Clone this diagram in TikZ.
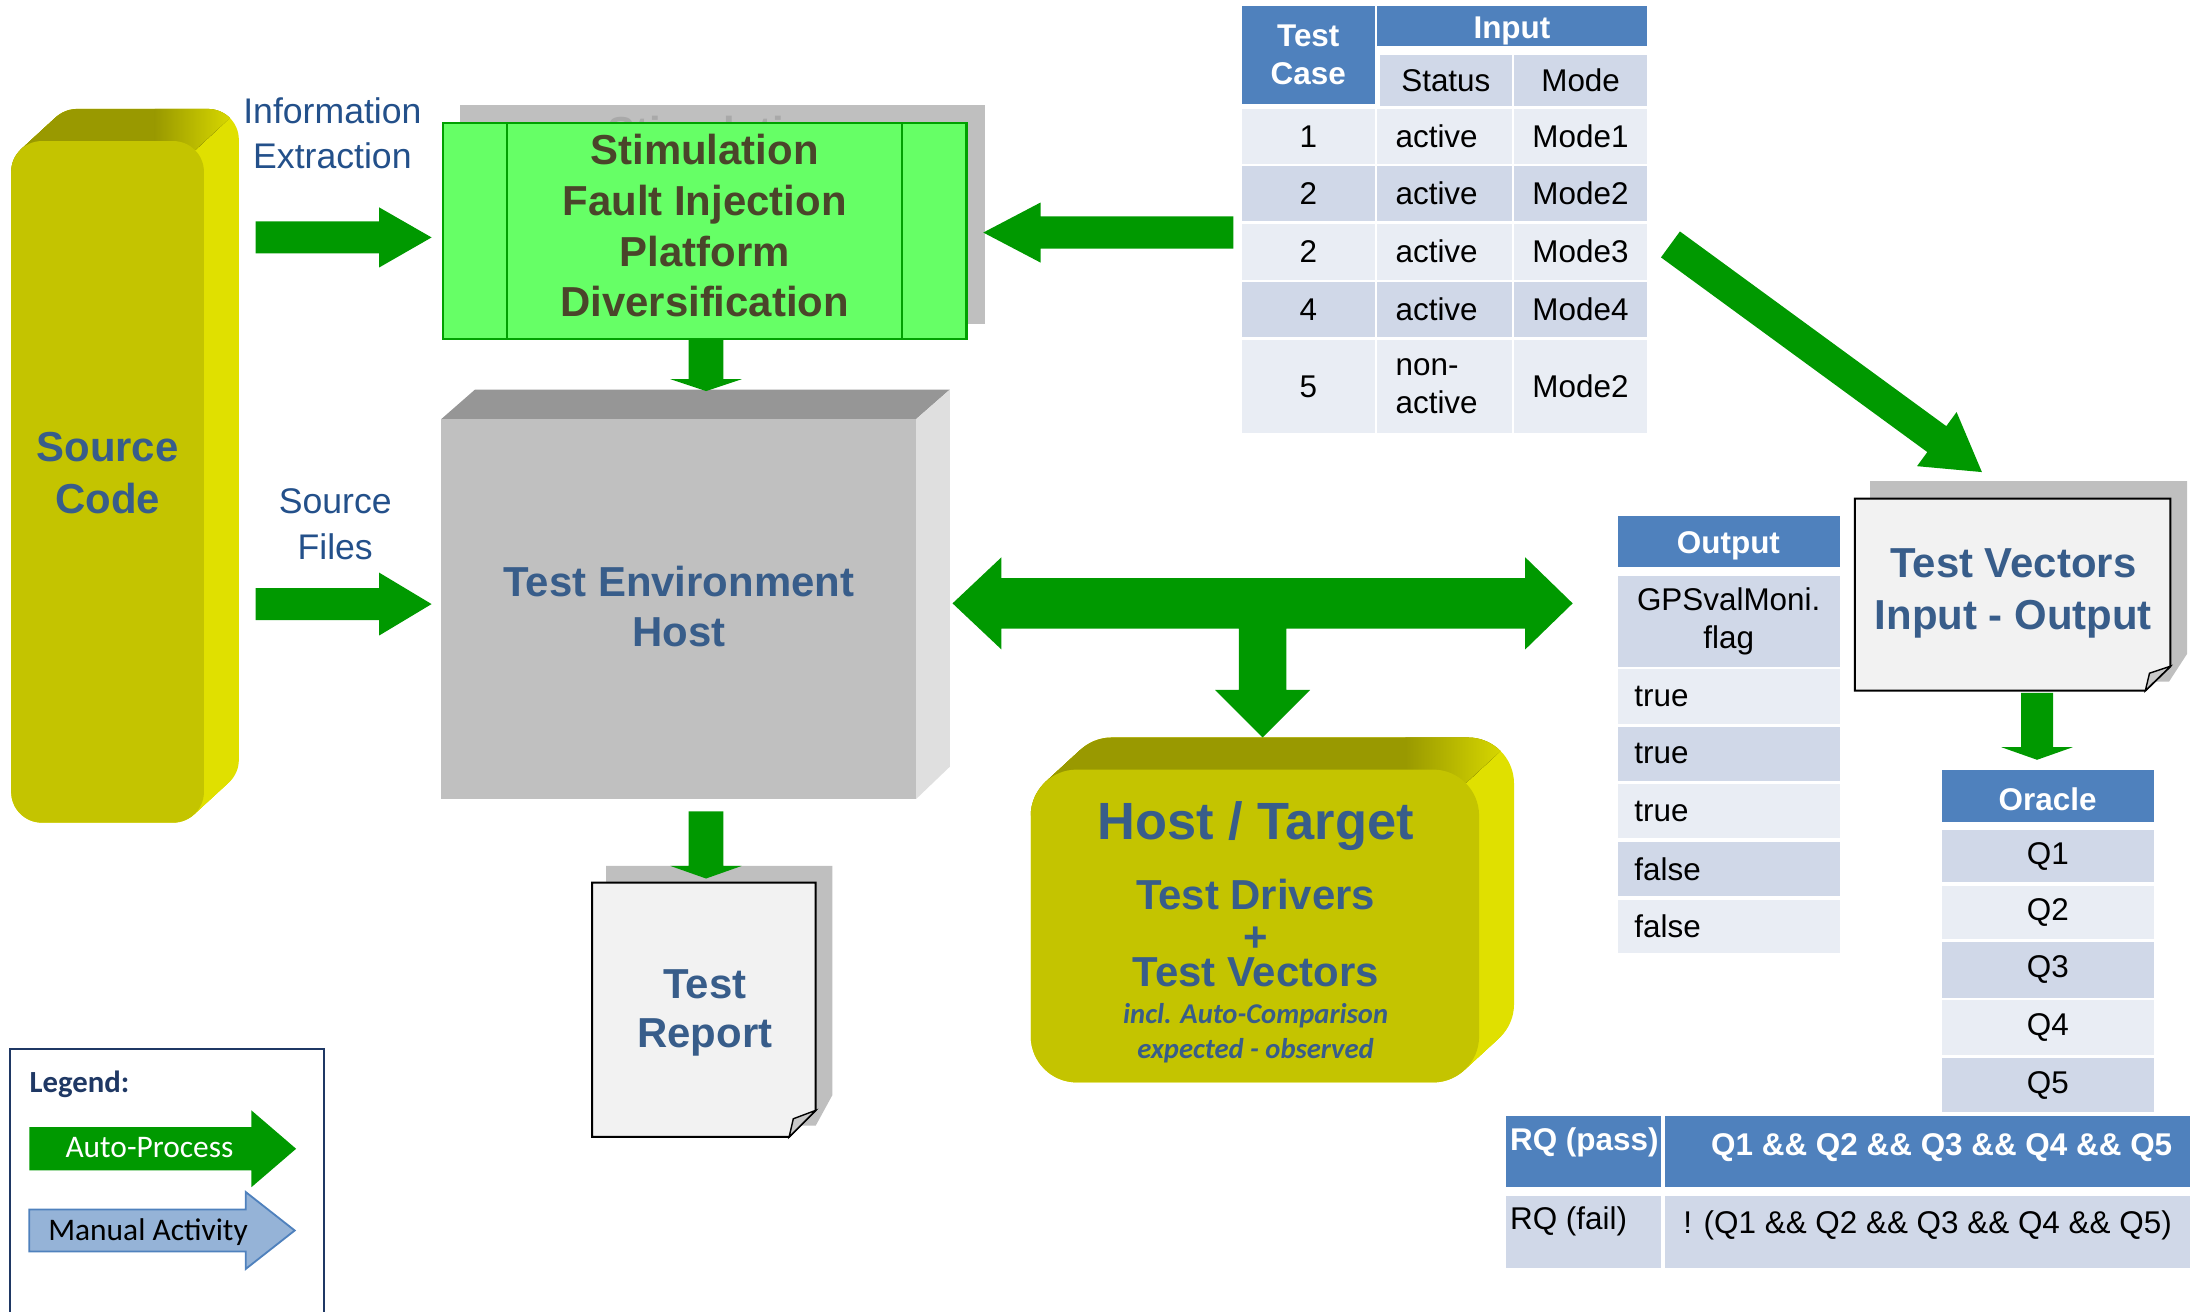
\documentclass[tikz,border=0pt]{standalone}
\usepackage{fontspec}
\setmainfont{Liberation Sans}
\newfontfamily\calibfont{Carlito}
\usetikzlibrary{calc}

% palette
\definecolor{flowgreen}{HTML}{009900}
\definecolor{procgreen}{HTML}{66FF66}
\definecolor{procedge}{HTML}{00A000}
\definecolor{proctext}{HTML}{4A452A}
\definecolor{labelblue}{HTML}{23508A}
\definecolor{boxblue}{HTML}{385D8A}
\definecolor{yelfront}{HTML}{C4C400}
\definecolor{yeltop}{HTML}{999900}
\definecolor{yelside}{HTML}{E0E000}
\definecolor{greyfront}{HTML}{C0C0C0}
\definecolor{greytop}{HTML}{969696}
\definecolor{greyside}{HTML}{DFDFDF}
\definecolor{shadowgrey}{HTML}{BFBFBF}
\definecolor{ghost}{HTML}{A9A9A9}
\definecolor{paper}{HTML}{F2F2F2}
\definecolor{flapgrey}{HTML}{C8C8C8}
\definecolor{hdrblue}{HTML}{4F81BD}
\definecolor{rowdark}{HTML}{D0D8E8}
\definecolor{rowlight}{HTML}{E9EDF4}
\definecolor{manualfill}{HTML}{95B3D7}
\definecolor{legendedge}{HTML}{1F3864}

\newcommand\tabfont{\fontsize{22.5}{27}\selectfont}

% block arrow: [style]{from}{to}{half shaft}{half head}{head length}
\newcommand\fatarrow[6][fill=flowgreen]{%
  \path[#1] let \p1=($(#3)!#6!(#2)$) in
    ($(#2)!#4!90:(#3)$) -- ($(\p1)!#4!90:(#3)$) -- ($(\p1)!#5!90:(#3)$) -- (#3)
    -- ($(\p1)!#5!-90:(#3)$) -- ($(\p1)!#4!-90:(#3)$) -- ($(#2)!#4!-90:(#3)$) -- cycle;
}

% extruded rounded block: x0,y0,x1,y1,radius,dx,dy,palette
\newcommand\solidblock[8]{%
  \foreach \k in {0,...,24}{
    \fill[#8side, rounded corners=#5pt]
      ({#1+\k/24*(#6)},{#2+\k/24*(#7)}) rectangle ({#3+\k/24*(#6)},{#4+\k/24*(#7)});
  }
  \begin{scope}
    \clip ({#1-40},{#2+#5}) -- ({#1-40},{#2+(#7)-40}) -- ({#3+(#6)+40},{#2+(#7)-40})
      -- ({#3-0.29*#5+1.8*(#6)},{#2+0.29*#5+1.8*(#7)}) -- ({#3-0.29*#5},{#2+0.29*#5})
      -- ({#3-#5},{#2+#5}) -- cycle;
    \foreach \k in {0,...,24}{
      \fill[#8top, rounded corners=#5pt]
        ({#1+\k/24*(#6)},{#2+\k/24*(#7)}) rectangle ({#3+\k/24*(#6)},{#4+\k/24*(#7)});
    }
    % soft blend where the top face turns into the side face
    \clip[rounded corners=#5pt] (#1,#4) -- (#1,#2) -- ({#1+(#6)},{#2+(#7)}) -- ({#3+(#6)},{#2+(#7)})
      -- ({#3+(#6)},{#4+(#7)}) -- (#3,#4) -- cycle;
    \shade[left color=#8top, right color=#8side]
      ({#3-1.6*#5},{#2+(#7)-2}) rectangle ({#3+(#6)+2},{#2+#5});
  \end{scope}
  \fill[#8front, rounded corners=#5pt] (#1,#2) rectangle (#3,#4);
}

\tikzset{
  every node/.style={inner sep=0pt},
  lbl/.style={align=center, text=boxblue},
  bigbold/.style={font=\fontsize{30}{#1}\selectfont\bfseries},
  sidelabel/.style={align=center, text=labelblue, font=\fontsize{25.5}{32.4}\selectfont},
  cellc/.style={rectangle, anchor=north west, font=\tabfont, align=center},
  cellhdr/.style={cellc, fill=hdrblue, text=white, font=\tabfont\bfseries},
  cellleft/.style={cellc, align=left, inner xsep=13pt},
}

% one row of the test case table: name, top, height, colour, three entries
\newcommand\trow[7]{%
  \node[cellc, fill=#4, minimum width=95pt, minimum height=#3pt] (#1a) at (889,#2) {#5};
  \node[cellleft, fill=#4, minimum width=96pt, minimum height=#3pt, text width=70pt] (#1b) at (986,#2) {#6};
  \node[cellleft, fill=#4, minimum width=95pt, minimum height=#3pt, text width=69pt] (#1c) at (1084,#2) {#7};
}
% output column cell
\newcommand\ocell[5]{%
  \node[cellleft, fill=#4, minimum width=159pt, minimum height=#3pt, text width=135pt, inner xsep=12pt] (#1) at (1158,#2) {#5};
}
% oracle column cell
\newcommand\qcell[5]{%
  \node[cellc, fill=#4, minimum width=152pt, minimum height=#3pt] (#1) at (1390,#2) {#5};
}

\begin{document}
\begin{tikzpicture}[x=1pt,y=-1pt]
\useasboundingbox (0,0) rectangle (1568,939);
\clip (0,0) rectangle (1568,939);

% ---------- source code column ----------
\solidblock{8}{101}{146}{589}{22}{25}{-23}{yel}
\node[lbl, bigbold=37] (srcLbl) at (77,338.5) {Source\\Code};

% ---------- stimulation / fault injection process ----------
\fill[shadowgrey] (329,75) rectangle (705,232);
\begin{scope}
  \clip (329,75) rectangle (705,88);
  \node[anchor=base, text=ghost, font=\fontsize{30}{36}\selectfont\bfseries] (stimGhost) at (516.5,105) {Stimulation};
\end{scope}
\node[draw=procedge, fill=procgreen, line width=1.5pt, minimum width=375pt, minimum height=155pt] (stim) at (504.5,165.5) {};
\draw[procedge, line width=1.5pt] (363,88) -- (363,243) (646,88) -- (646,243);
\node[align=center, text=proctext, bigbold=36.3] (stimLbl) at (504.5,161.7)
  {Stimulation\\Fault Injection\\Platform\\Diversification};

% ---------- test environment host ----------
\fill[greytop] (316,300) -- (340,279) -- (680,279) -- (656,300) -- cycle;
\fill[greyside] (656,300) -- (680,279) -- (680,549) -- (656,572) -- cycle;
\fill[greyfront] (316,300) rectangle (656,572);
\node[lbl, bigbold=35.8] (envLbl) at (486,434.6) {Test Environment\\Host};

% ---------- host / target ----------
\solidblock{738}{551}{1059}{775}{33}{25}{-23}{yel}
\node[anchor=base, text=boxblue, font=\fontsize{37.5}{40}\selectfont\bfseries] (htTitle) at (899,601) {Host / Target};
\node[anchor=base, text=boxblue, bigbold=34] (htDrv) at (899,651.5) {Test Drivers};
\node[anchor=base, text=boxblue, bigbold=34] (htPlus) at (899,681.5) {+};
\node[anchor=base, text=boxblue, bigbold=34] (htVec) at (899,706) {Test Vectors};
\node[anchor=base, text=boxblue, font=\calibfont\fontsize{20.5}{24}\selectfont\bfseries\itshape] (htInc) at (899,733) {incl. Auto-Comparison};
\node[anchor=base, text=boxblue, font=\calibfont\fontsize{20.5}{24}\selectfont\bfseries\itshape] (htExp) at (899,757.5) {expected - observed};

% ---------- documents ----------
\fill[shadowgrey] (1339,344.5) -- (1566,344.5) -- (1566,468) -- (1553,488) -- (1339,488) -- cycle;
\draw[line width=1.4pt, fill=paper] (1328,357) -- (1554,357) -- (1554,477) -- (1536,494.5) -- (1328,494.5) -- cycle;
\draw[line width=1pt, fill=flapgrey] (1554,477) -- (1539,482) -- (1536,494.5) -- cycle;
\node[lbl, bigbold=37] (tvLbl) at (1441.5,425) {Test Vectors\\Input - Output};

\fill[shadowgrey] (434,620) -- (596,620) -- (596,784) -- (584,806) -- (434,806) -- cycle;
\draw[line width=1.4pt, fill=paper] (424,632) -- (584,632) -- (584,795) -- (565,814) -- (424,814) -- cycle;
\draw[line width=1pt, fill=flapgrey] (584,795) -- (568,801) -- (565,814) -- cycle;
\node[lbl, bigbold=35.5] (trLbl) at (504.6,725.2) {Test\\Report};

% ---------- side labels ----------
\node[sidelabel] (ieLbl) at (238,95.5) {Information\\Extraction};
\node[sidelabel] (sfLbl) at (240,375.3) {Source\\Files};

% ---------- test case table ----------
\node[cellhdr, minimum width=95pt, minimum height=70pt] (tcHead) at (889,4) {Test\\Case};
\node[cellhdr, minimum width=193pt, minimum height=29pt] (inHead) at (986,4) {};
\node[anchor=base, font=\tabfont\bfseries, text=white] (inText) at (1082.5,27.5) {Input};
\node[cellc, fill=rowdark, minimum width=94pt, minimum height=37pt] (stHead) at (988,39) {Status};
\node[cellc, fill=rowdark, minimum width=95pt, minimum height=37pt] (mdHead) at (1084,39) {Mode};
\trow{ra}{78}{39}{rowlight}{1}{active}{Mode1}
\trow{rb}{119}{39}{rowdark}{2}{active}{Mode2}
\trow{rc}{160}{40}{rowlight}{2}{active}{Mode3}
\trow{rd}{202}{39}{rowdark}{4}{active}{Mode4}
\trow{re}{243}{67}{rowlight}{5}{non-\\active}{Mode2}

% ---------- output column ----------
\node[cellhdr, minimum width=159pt, minimum height=37pt] (outHead) at (1158,369) {};
\node[anchor=base, font=\tabfont\bfseries, text=white] (outText) at (1237.5,396) {Output};
\node[cellc, fill=rowdark, minimum width=159pt, minimum height=65pt] (gps) at (1158,412) {GPSvalMoni.\\flag};
\ocell{oa}{479}{39}{rowlight}{true}
\ocell{ob}{520}{39}{rowdark}{true}
\ocell{oc}{561}{39}{rowlight}{true}
\ocell{od}{603}{38.5}{rowdark}{false}
\ocell{oe}{644}{38}{rowlight}{false}

% ---------- oracle column ----------
\node[cellhdr, minimum width=152pt, minimum height=37.5pt] (orHead) at (1390,551) {};
\node[anchor=base, font=\tabfont\bfseries, text=white] (orText) at (1466,580) {Oracle};
\qcell{qa}{594}{37.5}{rowdark}{Q1}
\qcell{qb}{634}{38}{rowlight}{Q2}
\qcell{qc}{674.5}{39.5}{rowdark}{Q3}
\qcell{qd}{716}{39}{rowlight}{Q4}
\qcell{qe}{757.5}{38.5}{rowdark}{Q5}

% ---------- requirement rows ----------
\node[cellc, fill=hdrblue, minimum width=111pt, minimum height=51pt] (rqPass) at (1078,799) {};
\node[cellc, fill=hdrblue, minimum width=400pt, minimum height=51pt] (rqPassV) at (1192,799) {};
\node[cellc, fill=rowdark, minimum width=111pt, minimum height=52pt] (rqFail) at (1078,856) {};
\node[cellc, fill=rowdark, minimum width=400pt, minimum height=52pt] (rqFailV) at (1192,856) {};
\node[anchor=base west, font=\tabfont\bfseries, text=white] (rqPassT) at (1081,824) {RQ (pass)};
\node[anchor=base west, font=\tabfont\bfseries, text=white] (rqPassE) at (1225,827) {Q1 \&\& Q2 \&\& Q3 \&\& Q4 \&\& Q5};
\node[anchor=base west, font=\tabfont] (rqFailT) at (1081,880) {RQ (fail)};
\node[anchor=base west, font=\tabfont] (rqFailE) at (1205,883) {! (Q1 \&\& Q2 \&\& Q3 \&\& Q4 \&\& Q5)};

% ---------- flow arrows ----------
\coordinate (ieA) at (183,170);     \coordinate (ieB) at (309,170);
\fatarrow{ieA}{ieB}{11.5pt}{21.5pt}{37.5pt}
\coordinate (sfA) at (183,432.5);   \coordinate (sfB) at (309,432.5);
\fatarrow{sfA}{sfB}{11.5pt}{22.5pt}{37.5pt}
\coordinate (seA) at (505.5,243);   \coordinate (seB) at (505.5,280);
\fatarrow{seA}{seB}{12.5pt}{25.5pt}{8.5pt}
\coordinate (tsA) at (883,166.5);   \coordinate (tsB) at (704,166.5);
\fatarrow{tsA}{tsB}{11.5pt}{21.5pt}{41pt}
\coordinate (dgA) at (1196,175);    \coordinate (dgB) at (1419,338);
\fatarrow{dgA}{dgB}{11.5pt}{24pt}{40pt}
\coordinate (erA) at (505.5,581);   \coordinate (erB) at (505.5,629);
\fatarrow{erA}{erB}{12.5pt}{25.5pt}{9pt}
\coordinate (voA) at (1458.5,496);  \coordinate (voB) at (1458.5,544);
\fatarrow{voA}{voB}{11.5pt}{25.5pt}{9pt}

% exchange arrow between host environment and output, with branch to host/target
\coordinate (xL) at (682,432);
\coordinate (xR) at (1126,432);
\coordinate (xD) at (904,528);
\fill[flowgreen] (xL) -- ++(35,-33) -- ++(0,15) -- ++(375,0) -- ++(0,-15) -- (xR)
  -- ++(-34,33) -- ++(0,-15) -- ++(-171,0) -- ++(0,44) -- ++(17,0) -- (xD)
  -- ++(-34,-34) -- ++(17,0) -- ++(0,-44) -- ++(-170,0) -- ++(0,15) -- cycle;

% ---------- legend ----------
\draw[legendedge, line width=1.3pt] (7,751) rectangle (232,960);
\node[anchor=base west, text=legendedge, font=\calibfont\fontsize{22}{26}\selectfont\bfseries] (legTitle) at (21,782) {Legend:};
\coordinate (lgA1) at (21,822.5);  \coordinate (lgA2) at (212,822.5);
\fatarrow{lgA1}{lgA2}{15.5pt}{27.5pt}{32pt}
\node[anchor=base, text=white, font=\calibfont\fontsize{22.5}{26}\selectfont] (legAuto) at (107,829) {Auto-Process};
\coordinate (lgM1) at (21,881);    \coordinate (lgM2) at (211,881);
\fatarrow[fill=manualfill, draw=hdrblue, line width=1.3pt]{lgM1}{lgM2}{15pt}{27.5pt}{35pt}
\node[anchor=base, text=black, font=\calibfont\fontsize{22.5}{26}\selectfont] (legMan) at (106,888) {Manual Activity};
\end{tikzpicture}
\end{document}
